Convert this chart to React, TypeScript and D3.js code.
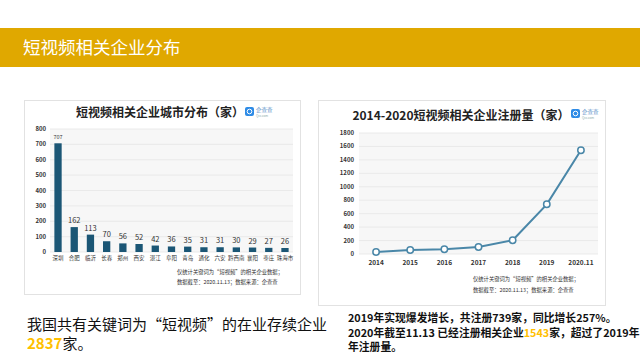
import React, { useEffect, useRef } from "react";
import * as d3 from "d3";

const cities = ["深圳", "合肥", "临沂", "长春", "郑州", "西安", "湛江", "阜阳", "青岛", "通化", "六安", "黔西南", "襄阳", "枣庄", "珠海市"];
const cityValues = [707, 162, 113, 70, 56, 52, 42, 36, 35, 31, 31, 30, 29, 27, 26];
const cityTicks = [0, 100, 200, 300, 400, 500, 600, 700, 800];

const years = ["2014", "2015", "2016", "2017", "2018", "2019", "2020.11"];
const yearValues = [30, 60, 70, 105, 205, 739, 1543];
const yearTicks = [0, 200, 400, 600, 800, 1000, 1200, 1400, 1600, 1800];

const pageTitle = "短视频相关企业分布";
const barTitle = "短视频相关企业城市分布（家）";
const lineTitle = "2014-2020短视频相关企业注册量（家）";
const note1 = "仅统计关键词为“短视频”的相关企业数据；";
const note2 = "数据截至：2020.11.13；数据来源：企查查";

const FONT = "'Noto Sans CJK SC', 'Noto Sans', sans-serif";

export default function App() {
  const ref = useRef<SVGSVGElement>(null);

  useEffect(() => {
    const svg = d3.select(ref.current);
    svg.selectAll("*").remove();

    // Header band
    svg.append("rect").attr("x", 0).attr("y", 28).attr("width", 640).attr("height", 39).attr("fill", "#E0A800");
    svg.append("text").attr("x", 23).attr("y", 54).attr("fill", "#fff").attr("font-size", 17.5)
      .attr("font-family", FONT).text(pageTitle);

    const logo = (x: number, y: number) => {
      const g = svg.append("g").attr("transform", `translate(${x},${y})`);
      g.append("rect").attr("x", 0).attr("y", 0).attr("width", 9).attr("height", 9).attr("rx", 2).attr("fill", "#2E8BE6");
      g.append("circle").attr("cx", 4.5).attr("cy", 4.5).attr("r", 2.3).attr("fill", "none").attr("stroke", "#fff").attr("stroke-width", 1);
      g.append("text").attr("x", 11).attr("y", 5).attr("font-size", 5.5).attr("fill", "#5a8fc8").attr("font-family", FONT).text("企查查");
      g.append("text").attr("x", 11).attr("y", 9.5).attr("font-size", 3).attr("fill", "#8aa").attr("font-family", FONT).text("Qcc.com");
    };

    // ===== Left panel: bar chart =====
    svg.append("rect").attr("x", 24.5).attr("y", 100.5).attr("width", 276).attr("height", 194)
      .attr("fill", "#fff").attr("stroke", "#E2E2E2");
    const bx = d3.scaleBand<string>().domain(cities).range([50, 293]).paddingInner(0.55).paddingOuter(0.27);
    const by = d3.scaleLinear().domain([0, 800]).range([252, 129]);
    svg.append("rect").attr("x", 50).attr("y", 129).attr("width", 243).attr("height", 123).attr("fill", "#F7F7F7");
    const lg = svg.append("g");
    cityTicks.forEach((t) => {
      lg.append("line").attr("x1", 50).attr("x2", 293).attr("y1", by(t)).attr("y2", by(t))
        .attr("stroke", "#E6E6E6").attr("stroke-width", 0.8);
      lg.append("text").attr("x", 46).attr("y", by(t) + 2).attr("text-anchor", "end").attr("font-size", 6)
        .attr("font-weight", "bold").attr("fill", "#333").attr("font-family", FONT).text(t);
    });
    cities.forEach((c, i) => {
      const v = cityValues[i];
      lg.append("rect").attr("x", bx(c)!).attr("y", by(v)).attr("width", bx.bandwidth()).attr("height", by(0) - by(v))
        .attr("fill", "#1B5675");
      lg.append("text").attr("x", bx(c)! + bx.bandwidth() / 2).attr("y", by(v) - 4).attr("text-anchor", "middle")
        .attr("font-size", i === 0 ? 5.5 : 7.5).attr("fill", "#333").attr("font-family", FONT).text(v);
      lg.append("text").attr("x", bx(c)! + bx.bandwidth() / 2).attr("y", 260).attr("text-anchor", "middle")
        .attr("font-size", 5.5).attr("fill", "#333").attr("font-family", FONT).text(c);
    });
    svg.append("text").attr("x", 160).attr("y", 117).attr("text-anchor", "middle").attr("font-size", 12)
      .attr("font-weight", "bold").attr("fill", "#222").attr("font-family", FONT).text(barTitle);
    logo(245, 107);
    svg.append("text").attr("x", 177).attr("y", 274).attr("font-size", 5.3).attr("fill", "#333").attr("font-family", FONT).text(note1);
    svg.append("text").attr("x", 177).attr("y", 284).attr("font-size", 5.3).attr("fill", "#333").attr("font-family", FONT).text(note2);

    // ===== Right panel: line chart =====
    svg.append("rect").attr("x", 318.5).attr("y", 100.5).attr("width", 287).attr("height", 205)
      .attr("fill", "#fff").attr("stroke", "#E2E2E2");
    const lx = d3.scalePoint<string>().domain(years).range([359, 598]).padding(0.5);
    const ly = d3.scaleLinear().domain([0, 1800]).range([254, 133]);
    svg.append("rect").attr("x", 359).attr("y", 133).attr("width", 239).attr("height", 121).attr("fill", "#F7F7F7");
    const rg = svg.append("g");
    yearTicks.forEach((t) => {
      rg.append("line").attr("x1", 359).attr("x2", 598).attr("y1", ly(t)).attr("y2", ly(t))
        .attr("stroke", "#E6E6E6").attr("stroke-width", 0.8);
      rg.append("text").attr("x", 354).attr("y", ly(t) + 2).attr("text-anchor", "end").attr("font-size", 6)
        .attr("font-weight", "bold").attr("fill", "#333").attr("font-family", FONT).text(t);
    });
    years.forEach((y) => {
      rg.append("text").attr("x", lx(y)!).attr("y", 265).attr("text-anchor", "middle").attr("font-size", 6.5)
        .attr("font-weight", "bold").attr("fill", "#333").attr("font-family", FONT).text(y);
    });
    const pts = years.map((y, i) => [lx(y)!, ly(yearValues[i])] as [number, number]);
    rg.append("path").attr("d", d3.line()(pts)!).attr("fill", "none").attr("stroke", "#4A87A8").attr("stroke-width", 2);
    pts.forEach(([x, y]) => {
      rg.append("circle").attr("cx", x).attr("cy", y).attr("r", 3.2).attr("fill", "#fff")
        .attr("stroke", "#4A87A8").attr("stroke-width", 1.5);
    });
    svg.append("text").attr("x", 461).attr("y", 120).attr("text-anchor", "middle").attr("font-size", 12)
      .attr("font-weight", "bold").attr("fill", "#222").attr("font-family", FONT).text(lineTitle);
    logo(571, 109);
    svg.append("text").attr("x", 473).attr("y", 281).attr("font-size", 5.3).attr("fill", "#333").attr("font-family", FONT).text(note1);
    svg.append("text").attr("x", 473).attr("y", 292).attr("font-size", 5.3).attr("fill", "#333").attr("font-family", FONT).text(note2);

    // ===== Bottom texts =====
    const t1 = svg.append("text").attr("x", 27).attr("y", 330).attr("font-size", 15).attr("fill", "#111").attr("font-family", FONT);
    t1.text("我国共有关键词为“短视频”的在业存续企业");
    const t2 = svg.append("text").attr("x", 27).attr("y", 349).attr("font-size", 15).attr("fill", "#111").attr("font-family", FONT);
    t2.append("tspan").attr("fill", "#FFC000").attr("font-weight", "bold").text("2837");
    t2.append("tspan").text("家。");

    const rt = [
      [{ t: "2019年实现爆发增长，共注册739家，同比增长257%。", c: "#111" }],
      [{ t: "2020年截至11.13 已经注册相关企业", c: "#111" }, { t: "1543", c: "#FFC000" }, { t: "家，超过了2019年", c: "#111" }],
      [{ t: "年注册量。", c: "#111" }],
    ];
    rt.forEach((line, i) => {
      const tx = svg.append("text").attr("x", 348).attr("y", 322 + i * 14.5).attr("font-size", 10.8)
        .attr("font-weight", "bold").attr("font-family", FONT);
      line.forEach((s) => tx.append("tspan").attr("fill", s.c).text(s.t));
    });
  }, []);

  return (
    <svg ref={ref} width={640} height={360}
      style={{ position: "absolute", left: 0, top: 0, background: "#fff", display: "block" }} />
  );
}
